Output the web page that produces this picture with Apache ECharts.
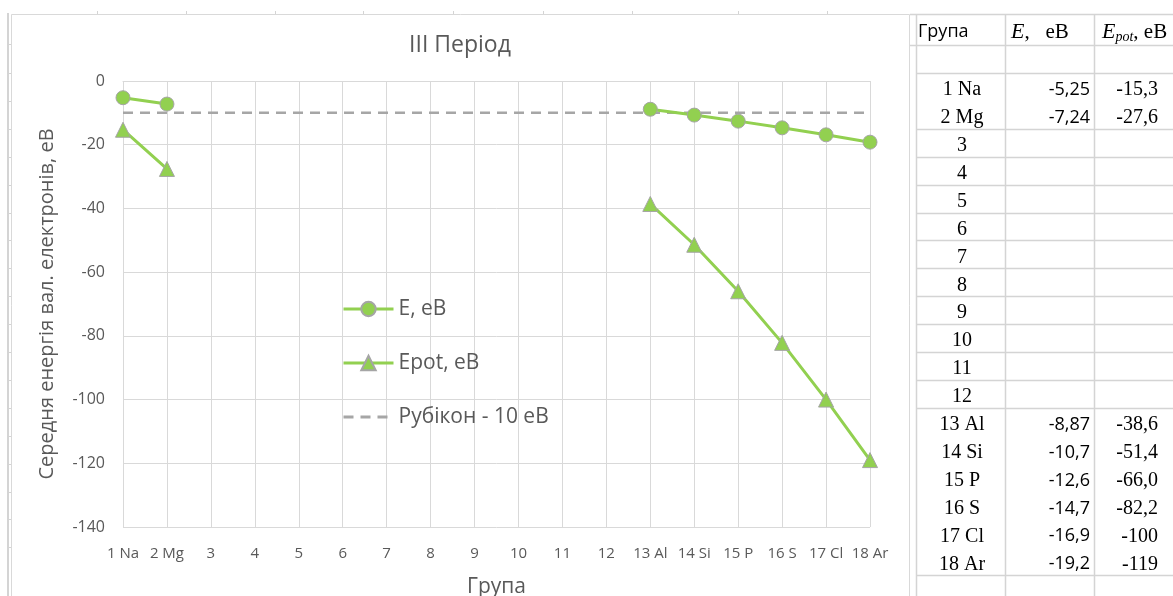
<!DOCTYPE html>
<html><head><meta charset="utf-8">
<script src="https://cdn.jsdelivr.net/npm/echarts@6/dist/echarts.min.js"></script>
<style>html,body{margin:0;padding:0;background:#fff;}#c{width:1173px;height:596px;}</style>
</head><body><div id="c"></div>
<script>
// ---- data ----
const categories = ['1 Na','2 Mg','3','4','5','6','7','8','9','10','11','12','13 Al','14 Si','15 P','16 S','17 Cl','18 Ar'];
const eValues = [-5.25,-7.24,null,null,null,null,null,null,null,null,null,null,-8.87,-10.7,-12.6,-14.7,-16.9,-19.2];
const epotValues = [-15.3,-27.6,null,null,null,null,null,null,null,null,null,null,-38.6,-51.4,-66.0,-82.2,-100,-119];
const rubiconValues = [-10,-10,-10,-10,-10,-10,-10,-10,-10,-10,-10,-10,-10,-10,-10,-10,-10,-10];
const seriesNames = ['E, еВ','Epot, еВ','Рубікон - 10 еВ'];
const chartTitle = 'III Період';
const xAxisTitle = 'Група';
const yAxisTitle = 'Середня енергія вал. електронів, еВ';
const yMin = -140, yMax = 0, yStep = 20;
const tableHeadGroup = 'Група';

// ---- helpers ----
const fmt = v => v == null ? '' : v.toPrecision(3).replace('.', ',');
const TXT = '#595959';
const GRID = '#D9D9D9';
const CELL = '#D4D4D4';
const SANS = 'Open Sans';
const SERIF = 'Liberation Serif';

const g = [];
g.push({type:'line', shape:{x1:8,y1:13,x2:8,y2:596}, style:{stroke:CELL,lineWidth:2}, silent:true});
[97,186,275,363,453,543,632,738,827].forEach(x=>{
  g.push({type:'line', shape:{x1:x+0.5,y1:11,x2:x+0.5,y2:14}, style:{stroke:CELL,lineWidth:1}, silent:true});
});
const rowH = 27.9, row0 = 73;
const hasData = r => r >= 0 && r < categories.length && eValues[r] != null;
for (let r = 0; r < 18; r++) {
  const y = row0 + r*rowH;
  g.push({type:'line', shape:{x1:7,y1:Math.round(y)+0.5,x2:11,y2:Math.round(y)+0.5}, style:{stroke:CELL,lineWidth:1}, silent:true});
}
g.push({type:'line', shape:{x1:7,y1:44.5,x2:11,y2:44.5}, style:{stroke:CELL,lineWidth:1}, silent:true});
g.push({type:'rect', shape:{x:11.5,y:14.5,width:898,height:620}, style:{stroke:GRID,fill:null,lineWidth:1}, silent:true, z:-1});
const tL = 916, tR = 1173;
[14,45].forEach(y=>g.push({type:'line', shape:{x1:910,y1:y+0.5,x2:tR,y2:y+0.5}, style:{stroke:CELL,lineWidth:1.5}, silent:true}));
for (let r = 0; r <= 19; r++) {
  if (hasData(r-1) && hasData(r)) continue;
  const y = Math.round(row0 + r*rowH) + 0.5;
  g.push({type:'line', shape:{x1:tL,y1:y,x2:tR,y2:y}, style:{stroke:CELL,lineWidth:1.5}, silent:true});
}
[tL,1005,1094].forEach(x=>g.push({type:'line', shape:{x1:x+0.5,y1:14,x2:x+0.5,y2:596}, style:{stroke:CELL,lineWidth:1.5}, silent:true}));
g.push({type:'text', x:918, y:32, style:{text:tableHeadGroup, font:'18px "Open Sans"', fill:'#000', textAlign:'left', textVerticalAlign:'middle'}, silent:true});
g.push({type:'text', x:1011, y:32, style:{text:'{i|E}{n|,   еВ}', textAlign:'left', textVerticalAlign:'middle',
  rich:{i:{fontFamily:SERIF,fontStyle:'italic',fontSize:22,fill:'#000'}, n:{fontFamily:SERIF,fontSize:21,fill:'#000'}}}, silent:true});
g.push({type:'text', x:1102, y:32, style:{text:'{i|E}{s|pot}{n|, еВ}', textAlign:'left', textVerticalAlign:'middle',
  rich:{i:{fontFamily:SERIF,fontStyle:'italic',fontSize:22,fill:'#000'}, s:{fontFamily:SERIF,fontStyle:'italic',fontSize:14,fill:'#000',padding:[10,0,0,0]}, n:{fontFamily:SERIF,fontSize:21,fill:'#000'}}}, silent:true});
categories.forEach((c,r)=>{
  const y = row0 + r*rowH + rowH/2 + 3;
  g.push({type:'text', x:962, y:y, style:{text:c, font:'20px "Liberation Serif"', fill:'#000', textAlign:'center', textVerticalAlign:'middle'}, silent:true});
  if (eValues[r] != null) g.push({type:'text', x:1090, y:y, style:{text:fmt(eValues[r]), font:'18px "Open Sans"', fill:'#000', textAlign:'right', textVerticalAlign:'middle'}, silent:true});
  if (epotValues[r] != null) g.push({type:'text', x:1158, y:y, style:{text:fmt(epotValues[r]), font:'20px "Liberation Serif"', fill:'#000', textAlign:'right', textVerticalAlign:'middle'}, silent:true});
});

const chart = echarts.init(document.getElementById('c'), null, {renderer:'canvas'});
chart.setOption({
  animation:false,
  backgroundColor:'#fff',
  title:{text:chartTitle, left:460, top:34, textAlign:'center', padding:0,
    textStyle:{fontFamily:SANS, fontSize:23, fontWeight:'normal', color:TXT}},
  grid:{left:123, right:303, top:81, bottom:69, containLabel:false, outerBoundsMode:'none'},
  legend:{orient:'vertical', left:342, top:298, padding:0, itemWidth:50, itemHeight:18, itemGap:32,
    lineStyle:{width:3},
    data:[{name:seriesNames[0]},{name:seriesNames[1]},{name:seriesNames[2], itemStyle:{opacity:0}}],
    textStyle:{fontFamily:SANS, fontSize:21, color:TXT, lineHeight:22}},
  xAxis:{type:'category', data:categories, boundaryGap:false,
    name:xAxisTitle, nameLocation:'middle', nameGap:50,
    nameTextStyle:{fontFamily:SANS, fontSize:21, color:TXT},
    axisLine:{lineStyle:{color:GRID,width:1}}, axisTick:{show:false},
    axisLabel:{interval:0, margin:19, fontFamily:SANS, fontSize:15, color:TXT},
    splitLine:{show:true, interval:0, lineStyle:{color:GRID,width:1}}},
  yAxis:{type:'value', min:yMin, max:yMax, interval:yStep,
    name:yAxisTitle, nameLocation:'middle', nameGap:66,
    nameTextStyle:{fontFamily:SANS, fontSize:20, color:TXT},
    axisLine:{show:false}, axisTick:{show:false},
    axisLabel:{margin:18, fontFamily:SANS, fontSize:16, color:TXT},
    splitLine:{show:true, lineStyle:{color:GRID,width:1}}},
  series:[
    {name:seriesNames[2], type:'line', data:rubiconValues, symbol:'none', z:1,
      lineStyle:{color:'#A6A6A6', width:2.5, type:[10,7]}, itemStyle:{color:'#A6A6A6'}},
    {name:seriesNames[0], type:'line', data:eValues, symbol:'circle', symbolSize:14, z:3, connectNulls:false,
      lineStyle:{color:'#92D050', width:3}, itemStyle:{color:'#92D050', borderColor:'#A5A5A5', borderWidth:1}},
    {name:seriesNames[1], type:'line', data:epotValues, symbol:'triangle', symbolSize:15, z:3, connectNulls:false,
      lineStyle:{color:'#92D050', width:3}, itemStyle:{color:'#92D050', borderColor:'#A5A5A5', borderWidth:1}}
  ],
  graphic:{elements:g}
});
</script></body></html>
